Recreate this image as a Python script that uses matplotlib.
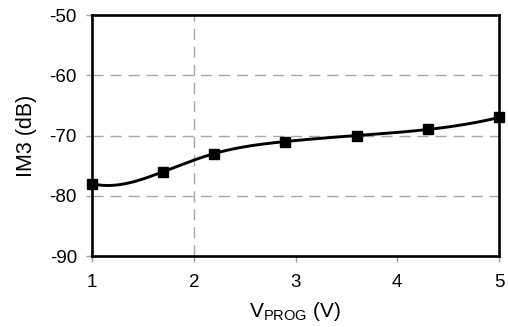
import numpy as np
import matplotlib
matplotlib.use("Agg")
import matplotlib.pyplot as plt

plt.rcParams['font.family'] = ['Liberation Sans', 'DejaVu Sans']
plt.rcParams['mathtext.fontset'] = 'custom'
plt.rcParams['mathtext.rm'] = 'Liberation Sans'
plt.rcParams['axes.unicode_minus'] = False

vprog = [1.0, 1.7, 2.2, 2.9, 3.6, 4.3, 5.0]
im3 = [-78, -76, -73, -71, -70, -69, -67]
xticks = [1, 2, 3, 4, 5]
yticks = [-90, -80, -70, -60, -50]


def spline(x, y, start_slope, n=400):
    # cubic spline, clamped start, not-a-knot end
    x = np.asarray(x, float); y = np.asarray(y, float)
    N = len(x)
    h = np.diff(x)
    A = np.zeros((N, N)); b = np.zeros(N)
    A[0, 0] = 2 * h[0]; A[0, 1] = h[0]
    b[0] = 6 * ((y[1] - y[0]) / h[0] - start_slope)
    A[-1, -3] = h[-1]; A[-1, -2] = -(h[-2] + h[-1]); A[-1, -1] = h[-2]
    for i in range(1, N - 1):
        A[i, i - 1] = h[i - 1]
        A[i, i] = 2 * (h[i - 1] + h[i])
        A[i, i + 1] = h[i]
        b[i] = 6 * ((y[i + 1] - y[i]) / h[i] - (y[i] - y[i - 1]) / h[i - 1])
    M = np.linalg.solve(A, b)
    xs = np.linspace(x[0], x[-1], n)
    ys = np.empty_like(xs)
    for k, xv in enumerate(xs):
        i = min(np.searchsorted(x, xv, side='right') - 1, N - 2)
        t0 = x[i + 1] - xv; t1 = xv - x[i]
        ys[k] = (M[i] * t0**3 + M[i + 1] * t1**3) / (6 * h[i]) \
            + (y[i] / h[i] - M[i] * h[i] / 6) * t0 \
            + (y[i + 1] / h[i] - M[i + 1] * h[i] / 6) * t1
    return xs, ys


fig = plt.figure(figsize=(5.08, 3.27), dpi=100)
ax = fig.add_axes([0.1811, 0.2171, 0.8012, 0.737])

for yv in [-80, -70, -60]:
    ax.axhline(yv, color='#a6a6a6', lw=1, dashes=(8, 5), zorder=1)
ax.axvline(2, color='#a6a6a6', lw=1, dashes=(8, 5), zorder=1)

xs, ys = spline(vprog, im3, start_slope=-4.0)
ax.plot(xs, ys, color='black', lw=2.1, zorder=3, clip_on=False)
ax.plot(vprog, im3, ls='none', marker='s', ms=7.3, color='black', zorder=4, clip_on=False)

ax.set_xlim(1, 5)
ax.set_ylim(-90, -50)
ax.set_xticks(xticks)
ax.set_yticks(yticks)
ax.tick_params(direction='out', length=4.3, width=1, color='#a0a0a0', labelsize=13.5)
ax.tick_params(axis='y', pad=6.5)
ax.tick_params(axis='x', pad=9)
for s in ax.spines.values():
    s.set_linewidth(1.9)
ax.set_xlabel('V$_{\\mathrm{PROG}}$ (V)', fontsize=15, labelpad=6)
ax.set_ylabel('IM3 (dB)', fontsize=15.5, labelpad=9)

fig.savefig('out.png', dpi=100)
